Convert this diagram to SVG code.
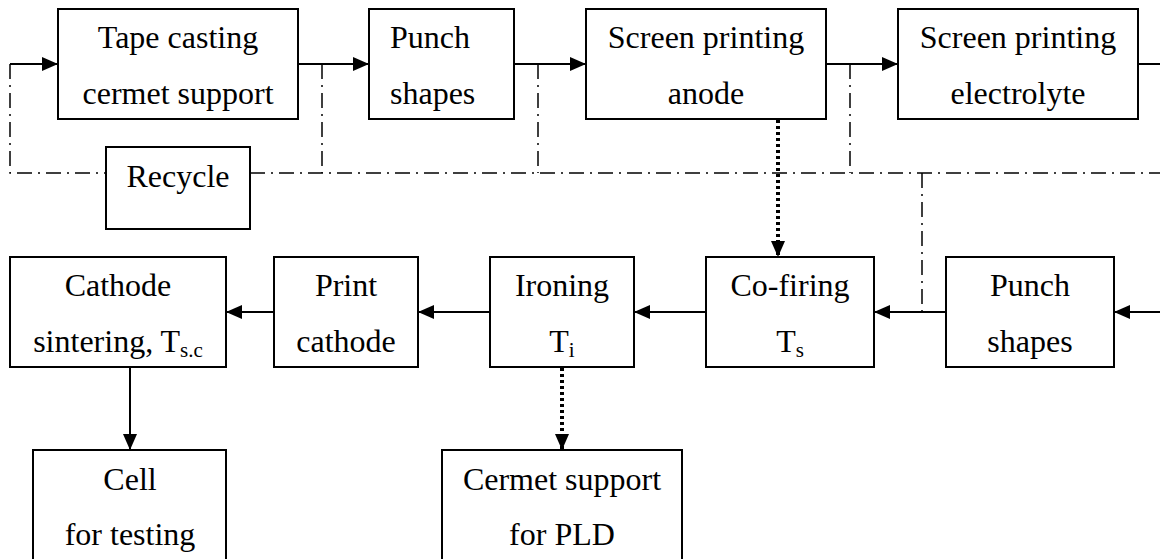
<svg xmlns="http://www.w3.org/2000/svg" width="1160" height="559" viewBox="0 0 1160 559">
<style>
.box{fill:#fff;stroke:#000;stroke-width:2}
.t{font-size:32px;fill:#000;text-anchor:middle}
.sub{font-size:21px}
.solid{stroke:#000;stroke-width:2;fill:none}
.dd{stroke:#000;stroke-width:1.5;fill:none;stroke-dasharray:15 6 2 6}
.dot{stroke:#000;stroke-width:4;fill:none;stroke-dasharray:3 3}
</style>
<defs>
<marker id="ah" markerUnits="userSpaceOnUse" markerWidth="16" markerHeight="14" refX="16" refY="7" orient="auto">
<path d="M0,0 L16,7 L0,14 z" fill="#000"/>
</marker>
</defs>
<g id="connectors">
<line class="solid" x1="10" y1="64" x2="58" y2="64" marker-end="url(#ah)"/>
<line class="solid" x1="298" y1="64" x2="369" y2="64" marker-end="url(#ah)"/>
<line class="solid" x1="514" y1="64" x2="586" y2="64" marker-end="url(#ah)"/>
<line class="solid" x1="826" y1="64" x2="898" y2="64" marker-end="url(#ah)"/>
<line class="solid" x1="1138" y1="64" x2="1160" y2="64"/>
<path class="dd" d="M10,64 V173 H106"/>
<path class="dd" d="M250,173 H1160"/>
<line class="dd" x1="322" y1="64" x2="322" y2="173"/>
<line class="dd" x1="538" y1="64" x2="538" y2="173"/>
<line class="dd" x1="850" y1="64" x2="850" y2="173"/>
<line class="dd" x1="922" y1="173" x2="922" y2="312"/>
<line class="dot" x1="778" y1="120" x2="778" y2="257" marker-end="url(#ah)"/>
<line class="solid" x1="1160" y1="312" x2="1114" y2="312" marker-end="url(#ah)"/>
<line class="solid" x1="946" y1="312" x2="874" y2="312" marker-end="url(#ah)"/>
<line class="solid" x1="706" y1="312" x2="634" y2="312" marker-end="url(#ah)"/>
<line class="solid" x1="490" y1="312" x2="418" y2="312" marker-end="url(#ah)"/>
<line class="solid" x1="274" y1="312" x2="226" y2="312" marker-end="url(#ah)"/>
<line class="solid" x1="130" y1="367" x2="130" y2="450" marker-end="url(#ah)"/>
<line class="dot" x1="562" y1="368" x2="562" y2="450" marker-end="url(#ah)"/>
</g>
<g font-family="'Liberation Serif', Tinos, 'Times New Roman', 'DejaVu Serif', serif">
<g id="tape">
<rect class="box" x="58" y="9" width="240" height="110"/>
<text class="t" x="178" y="48">Tape casting</text>
<text class="t" x="178" y="104">cermet support</text>
</g>
<g id="punch1">
<rect class="box" x="369" y="9" width="145" height="110"/>
<text class="t" x="390" y="48" style="text-anchor:start">Punch</text>
<text class="t" x="390" y="104" style="text-anchor:start">shapes</text>
</g>
<g id="anode">
<rect class="box" x="586" y="9" width="240" height="110"/>
<text class="t" x="706" y="48">Screen printing</text>
<text class="t" x="706" y="104">anode</text>
</g>
<g id="electrolyte">
<rect class="box" x="898" y="9" width="240" height="110"/>
<text class="t" x="1018" y="48">Screen printing</text>
<text class="t" x="1018" y="104">electrolyte</text>
</g>
<g id="recycle">
<rect class="box" x="106" y="147" width="144" height="82"/>
<text class="t" x="178" y="187">Recycle</text>
</g>
<g id="cathode-sintering">
<rect class="box" x="10" y="257" width="216" height="110"/>
<text class="t" x="118" y="296">Cathode</text>
<text class="t" x="118" y="352">sintering, T<tspan class="sub" dy="5">s.c</tspan></text>
</g>
<g id="print-cathode">
<rect class="box" x="274" y="257" width="144" height="110"/>
<text class="t" x="346" y="296">Print</text>
<text class="t" x="346" y="352">cathode</text>
</g>
<g id="ironing">
<rect class="box" x="490" y="257" width="144" height="110"/>
<text class="t" x="562" y="296">Ironing</text>
<text class="t" x="562" y="352">T<tspan class="sub" dy="5">i</tspan></text>
</g>
<g id="cofiring">
<rect class="box" x="706" y="257" width="168" height="110"/>
<text class="t" x="790" y="296">Co-firing</text>
<text class="t" x="790" y="352">T<tspan class="sub" dy="5">s</tspan></text>
</g>
<g id="punch2">
<rect class="box" x="946" y="257" width="168" height="110"/>
<text class="t" x="1030" y="296">Punch</text>
<text class="t" x="1030" y="352">shapes</text>
</g>
<g id="cell">
<rect class="box" x="33" y="450" width="193" height="130"/>
<text class="t" x="130" y="490">Cell</text>
<text class="t" x="130" y="545">for testing</text>
</g>
<g id="cermet-pld">
<rect class="box" x="442" y="450" width="240" height="130"/>
<text class="t" x="562" y="490">Cermet support</text>
<text class="t" x="562" y="545">for PLD</text>
</g>
</g>
</svg>
